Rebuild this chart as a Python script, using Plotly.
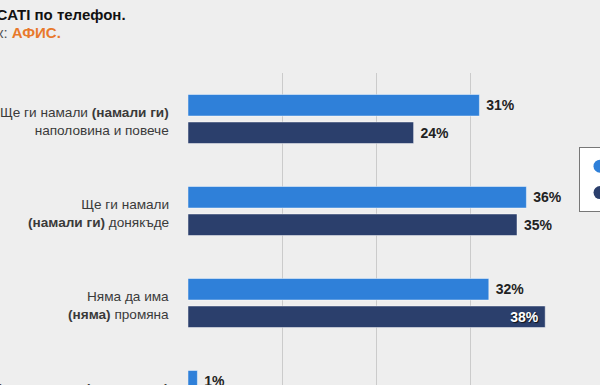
import plotly.graph_objects as go

# ---------------- data ----------------
categories = [
    "Ще ги намали <b>(намали ги)</b><br>наполовина и повече",
    "Ще ги намали<br><b>(намали ги)</b> донякъде",
    "Няма да има<br><b>(няма)</b> промяна",
    "Ще ги увеличи <b>(увеличи ги)</b><br>значително",
]
series_names = ["Очакване", "Резултат"]
expected = [31, 36, 32, 1]
actual = [24, 35, 38, 3]
x_ticks = [0, 10, 20, 30, 40]

# ---------------- layout constants ----------------
W, H = 600, 385
ML, MR, MT, MB = 188, 36, 73, 0
PLOT_W = W - ML - MR
PLOT_H = H - MT - MB
BAND_PX = 92
Y_END = -0.5 + PLOT_H / BAND_PX

FONT = "Arial, 'Liberation Sans', sans-serif"
LIGHT = "#2f80d9"
DARK = "#2b3f6c"
BG = "#eeeeee"


def px_x(px):
    return (px - ML) / PLOT_W


def px_y(py):
    return (H - MB - py) / PLOT_H


def cat_y(i):
    return 1 - (i + 0.5) / (Y_END + 0.5)


def texts(vals, limit=37):
    return [f"{v}%\u00a0" if v >= limit else f"\u00a0{v}%" for v in vals]


def positions(vals, limit=37):
    return ["inside" if v >= limit else "outside" for v in vals]


cat_idx = list(range(len(categories)))

fig = go.Figure()
for name, vals, col in [(series_names[0], expected, LIGHT), (series_names[1], actual, DARK)]:
    fig.add_trace(go.Bar(
        x=vals, y=cat_idx, orientation="h", name=name,
        marker=dict(color=col, line=dict(color="rgba(255,255,255,0.45)", width=1)),
        text=texts(vals), textposition=positions(vals),
        insidetextanchor="end", constraintext="none", cliponaxis=False,
        outsidetextfont=dict(family=FONT, size=14, color="#222222", weight="bold"),
        insidetextfont=dict(family=FONT, size=14, color="#ffffff", weight="bold",
                            shadow="1px 1px 1px #111"),
        showlegend=False, hoverinfo="skip",
    ))
    fig.add_trace(go.Scatter(
        x=[None], y=[None], mode="markers", name=name,
        marker=dict(symbol="circle", size=13, color=col),
    ))

annotations = []
for i, lab in enumerate(categories):
    annotations.append(dict(
        text=lab, xref="paper", yref="paper", x=0, y=cat_y(i),
        xanchor="right", yanchor="middle", xshift=-17, yshift=-2, align="right",
        showarrow=False, font=dict(family=FONT, size=13.6, color="#3a3a3a"),
    ))

annotations.append(dict(
    text="<b>Метод: CATI по телефон.</b>", xref="paper", yref="paper",
    x=px_x(-61), y=px_y(14), xanchor="left", yanchor="middle", showarrow=False,
    font=dict(family=FONT, size=15, color="#111111"),
))
annotations.append(dict(
    text="<span style='color:#555555'>Източник: </span><b>АФИС.</b>",
    xref="paper", yref="paper",
    x=px_x(-62), y=px_y(32), xanchor="left", yanchor="middle", showarrow=False,
    font=dict(family=FONT, size=15, color="#e8792c"),
))

fig.update_layout(
    width=W, height=H,
    margin=dict(l=ML, r=MR, t=MT, b=MB, autoexpand=False),
    paper_bgcolor=BG, plot_bgcolor=BG,
    barmode="group", bargap=0.402, bargroupgap=0.218,
    font=dict(family=FONT, size=13, color="#333333"),
    xaxis=dict(range=[x_ticks[0], x_ticks[-1]], tickvals=x_ticks, showgrid=True,
               gridcolor="#cbcbcb", gridwidth=1, zeroline=False,
               showticklabels=False, showline=False, fixedrange=True),
    yaxis=dict(range=[Y_END, -0.5], showticklabels=False, showgrid=False,
               zeroline=False, showline=False, fixedrange=True),
    legend=dict(x=px_x(579), y=px_y(147), xanchor="left", yanchor="top",
                bgcolor="#ffffff", bordercolor="#777777", borderwidth=1,
                font=dict(family=FONT, size=18, color="#333333"),
                itemsizing="trace"),
    annotations=annotations,
    showlegend=True,
)

fig.write_html(
    "out.html",
    config={"displayModeBar": False, "staticPlot": True},
    post_script="document.body.style.margin='0';document.body.style.overflow='hidden';"
                "document.body.style.background='" + BG + "';",
)
